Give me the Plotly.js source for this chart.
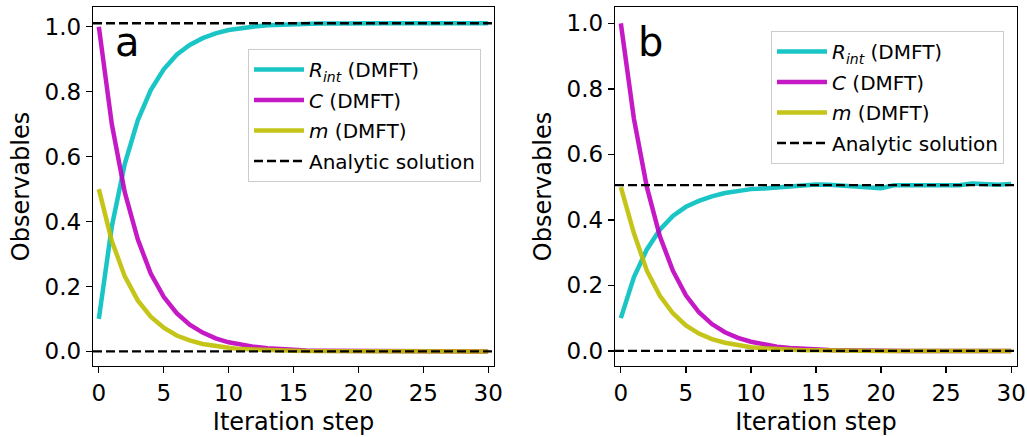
<!DOCTYPE html>
<html>
<head>
<meta charset="utf-8">
<script src="https://cdn.plot.ly/plotly-3.0.1.min.js"></script>
<style>html,body{margin:0;padding:0;background:#fff;}#chart{width:1027px;height:437px;}</style>
</head>
<body>
<div id="chart"></div>
<script>
// ---- data ----
const steps = [0,1,2,3,4,5,6,7,8,9,10,11,12,13,14,15,16,17,18,19,20,21,22,23,24,25,26,27,28,29,30];

// panel a
const rintA = [0.10,0.385,0.578,0.712,0.805,0.869,0.914,0.944,0.965,0.980,0.990,0.997,1.001,1.005,1.007,1.008,1.009,1.010,1.010,1.011,1.011,1.011,1.011,1.011,1.011,1.011,1.011,1.011,1.011,1.011,1.011];
const cA    = [1.0,0.70,0.49,0.345,0.24,0.168,0.118,0.082,0.058,0.040,0.028,0.020,0.014,0.010,0.007,0.005,0.003,0.002,0.002,0.001,0.001,0.001,0,0,0,0,0,0,0,0,0];
const mA    = [0.5,0.34,0.231,0.157,0.107,0.073,0.049,0.034,0.023,0.016,0.011,0.007,0.005,0.003,0.002,0.002,0.001,0.001,0,0,0,0,0,0,0,0,0,0,0,0,0];
const analyticA = [1.011, 0.0];

// panel b
const rintB = [0.10,0.225,0.31,0.37,0.412,0.44,0.458,0.472,0.482,0.489,0.494,0.496,0.499,0.504,0.506,0.508,0.507,0.505,0.503,0.501,0.497,0.506,0.506,0.506,0.505,0.505,0.506,0.511,0.510,0.507,0.510];
const cB    = [1.0,0.71,0.50,0.35,0.245,0.17,0.118,0.082,0.057,0.040,0.028,0.019,0.013,0.009,0.006,0.004,0.003,0.002,0.001,0.001,0.001,0,0,0,0,0,0,0,0,0,0];
const mB    = [0.5,0.36,0.245,0.168,0.115,0.078,0.053,0.036,0.025,0.017,0.011,0.008,0.005,0.004,0.002,0.002,0.001,0.001,0.001,0,0,0,0,0,0,0,0,0,0,0,0];
const analyticB = [0.506, 0.0];

const xLim = [-0.45, 30.45];
const seriesNames = ['<i>R</i><sub><i>int</i></sub> (DMFT)', '<i>C</i> (DMFT)', '<i>m</i> (DMFT)', 'Analytic solution'];
const panelLabels = ['a', 'b'];

// ---- styling ----
const FONT = 'DejaVu Sans';
const colors = ['#00BFBF', '#BF00BF', '#BFBF00'];
const LW = 4.5;

function panelTraces(xa, ya, leg, rint, c, m, analytic) {
  const t = [];
  [rint, c, m].forEach((vals, i) => {
    t.push({x: steps, y: vals, xaxis: xa, yaxis: ya, legend: leg, legendgroup: leg + 'g' + i, type: 'scatter', mode: 'lines',
      name: seriesNames[i], opacity: 0.9, line: {color: colors[i], width: LW}, hoverinfo: 'skip'});
  });
  analytic.forEach((v, k) => {
    t.push({x: xLim, y: [v, v], xaxis: xa, yaxis: ya, legend: leg, legendgroup: leg + 'g3', type: 'scatter', mode: 'lines',
      name: seriesNames[3], showlegend: k === 0, line: {color: '#000', width: 2.3, dash: '9px,4px'}, hoverinfo: 'skip'});
  });
  return t;
}

const data = [].concat(
  panelTraces('x', 'y', 'legend', rintA, cA, mA, analyticA),
  panelTraces('x2', 'y2', 'legend2', rintB, cB, mB, analyticB)
);

const ydom = [(437 - 366) / 437, (437 - 7) / 437];
function xax(domain) {
  return {domain: domain, range: xLim, tickmode: 'array', tickvals: [0,5,10,15,20,25,30],
    ticks: 'outside', ticklen: 6, tickwidth: 1.3, tickcolor: '#000', showgrid: false, zeroline: false,
    showline: true, mirror: true, linecolor: '#000', linewidth: 1.3,
    tickfont: {family: FONT, size: 23, color: '#000'},
    title: {text: 'Iteration step', font: {family: FONT, size: 24, color: '#000'}, standoff: 8}};
}
function yax(domain, range, anchor) {
  return {domain: domain, range: range, anchor: anchor, tickmode: 'array', tickvals: [0,0.2,0.4,0.6,0.8,1.0],
    ticktext: ['0.0','0.2','0.4','0.6','0.8','1.0'],
    ticks: 'outside', ticklen: 6, tickwidth: 1.3, tickcolor: '#000', showgrid: false, zeroline: false,
    showline: true, mirror: true, linecolor: '#000', linewidth: 1.3,
    tickfont: {family: FONT, size: 23, color: '#000'},
    title: {text: 'Observables', font: {family: FONT, size: 24, color: '#000'}, standoff: 8}};
}

const legendStyle = {
  font: {family: FONT, size: 20, color: '#000'}, bgcolor: 'rgba(255,255,255,0.8)',
  bordercolor: '#cccccc', borderwidth: 1, xanchor: 'left', yanchor: 'top', itemwidth: 50,
  tracegroupgap: 1.5, traceorder: 'grouped'
};

const layout = {
  width: 1027, height: 437,
  margin: {l: 0, r: 0, t: 0, b: 0},
  paper_bgcolor: '#fff', plot_bgcolor: '#fff',
  font: {family: FONT, color: '#000'},
  xaxis: Object.assign(xax([93 / 1027, 494 / 1027]), {anchor: 'y'}),
  yaxis: yax(ydom, [-0.045, 1.061], 'x'),
  xaxis2: Object.assign(xax([615 / 1027, 1017 / 1027]), {anchor: 'y2'}),
  yaxis2: yax(ydom, [-0.046, 1.050], 'x2'),
  legend: Object.assign({}, legendStyle, {x: 248 / 1027, y: 1 - 49 / 437}),
  legend2: Object.assign({}, legendStyle, {x: 771 / 1027, y: 1 - 31 / 437}),
  annotations: [
    {text: panelLabels[0], xref: 'paper', yref: 'paper', x: 113 / 1027, y: 1 - 42 / 437, xanchor: 'left', yanchor: 'middle',
     showarrow: false, font: {family: FONT, size: 40, color: '#000'}},
    {text: panelLabels[1], xref: 'paper', yref: 'paper', x: 636 / 1027, y: 1 - 42 / 437, xanchor: 'left', yanchor: 'middle',
     showarrow: false, font: {family: FONT, size: 40, color: '#000'}}
  ],
  showlegend: true
};

Plotly.newPlot('chart', data, layout, {displayModeBar: false, staticPlot: true});
</script>
</body>
</html>
